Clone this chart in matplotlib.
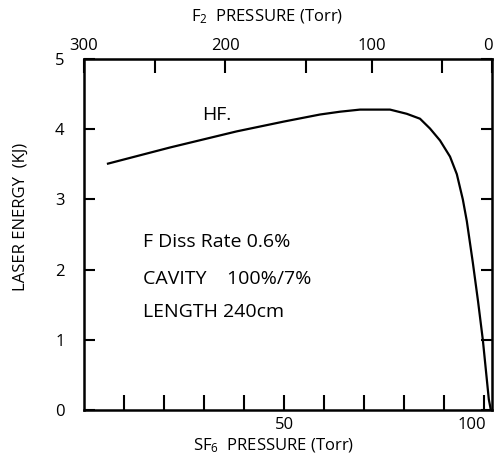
import numpy as np
import matplotlib
matplotlib.use("Agg")
import matplotlib.pyplot as plt
import matplotlib.transforms as mtransforms

plt.rcParams['font.family'] = ['Open Sans', 'DejaVu Sans']
plt.rcParams['mathtext.fontset'] = 'custom'
plt.rcParams['mathtext.rm'] = 'Open Sans'
plt.rcParams['mathtext.it'] = 'Open Sans:italic'

# HF laser energy vs SF6 pressure
sf6_pressure = [6, 21.5, 38.2, 50, 59, 64, 69, 76.5, 80.7, 84, 86.5, 89, 91.5,
                93.2, 94.7, 95.7, 97.2, 98.5, 99.7, 101.2, 101.7]
laser_energy = [3.51, 3.74, 3.97, 4.11, 4.21, 4.25, 4.28, 4.28, 4.22, 4.15, 4.01,
                3.84, 3.61, 3.36, 3.0, 2.69, 2.1, 1.55, 1.0, 0.15, 0.0]

# top axis: F2 pressure vs SF6 pressure, from the tick positions
f2_at_sf6 = [5.75, 22.5, 39, 58, 73.5, 90, 101.7]
f2_ticks = [300, 250, 200, 150, 100, 50, 0]
f2_labels = ['300', '', '200', '', '100', '', '0']

x_ticks = [10, 20, 30, 40, 50, 60, 70, 80, 90, 100]
x_labels = ['', '', '', '', '50', '', '', '', '', '100']
y_ticks = [0, 1, 2, 3, 4, 5]

notes = ['F Diss Rate 0.6%', 'CAVITY    100%/7%', 'LENGTH 240cm']
note_y = [2.39, 1.87, 1.39]

fig = plt.figure(figsize=(4.94, 4.58), dpi=100)
ax = fig.add_axes([0.170, 0.105, 0.826, 0.766])

ax.plot(sf6_pressure, laser_energy, color='black', lw=1.6)

ax.set_xlim(0, 102)
ax.set_ylim(0, 5)
ax.set_xticks(x_ticks)
ax.set_xticklabels(x_labels)
ax.set_yticks(y_ticks)
for s in ax.spines.values():
    s.set_linewidth(1.8)
ax.tick_params(axis='x', direction='in', length=11, width=1.5, labelsize=12, pad=5)
ax.tick_params(axis='y', direction='in', length=8, width=1.5, labelsize=12, pad=14)
ax.tick_params(right=True, labelright=False)

# the "100" label sits a bit left of its tick in the original
shift = mtransforms.ScaledTranslation(-12 / 100, 0, fig.dpi_scale_trans)
lbl = ax.get_xticklabels()[-1]
lbl.set_transform(lbl.get_transform() + shift)

ax.set_xlabel('SF$_6$  PRESSURE (Torr)', fontsize=12)
ax.xaxis.set_label_coords(274 / 408 - 84 / 408, -0.075)
ax.set_ylabel('LASER ENERGY  (KJ)', fontsize=12)
ax.yaxis.set_label_coords(-0.135, 0.55)


def to_f2(x):
    return np.interp(x, f2_at_sf6, f2_ticks)


def to_sf6(f):
    return np.interp(f, f2_ticks[::-1], f2_at_sf6[::-1])


top = ax.secondary_xaxis('top', functions=(to_f2, to_sf6))
top.set_xticks(f2_ticks)
top.set_xticklabels(f2_labels)
top.tick_params(direction='in', length=10, width=1.5, labelsize=12, pad=4)
# keep the "0" inside the picture
shift0 = mtransforms.ScaledTranslation(-4 / 100, 0, fig.dpi_scale_trans)
lbl0 = top.get_xticklabels()[-1]
lbl0.set_transform(lbl0.get_transform() + shift0)
fig.text(267 / 494, 1 - 17 / 458, 'F$_2$  PRESSURE (Torr)', fontsize=12,
         ha='center', va='center')

ax.text(29.5, 4.2, 'HF.', fontsize=14, va='center')
for t, yv in zip(notes, note_y):
    ax.text(14.7, yv, t, fontsize=14, va='center')

fig.savefig('out.png', dpi=100)
